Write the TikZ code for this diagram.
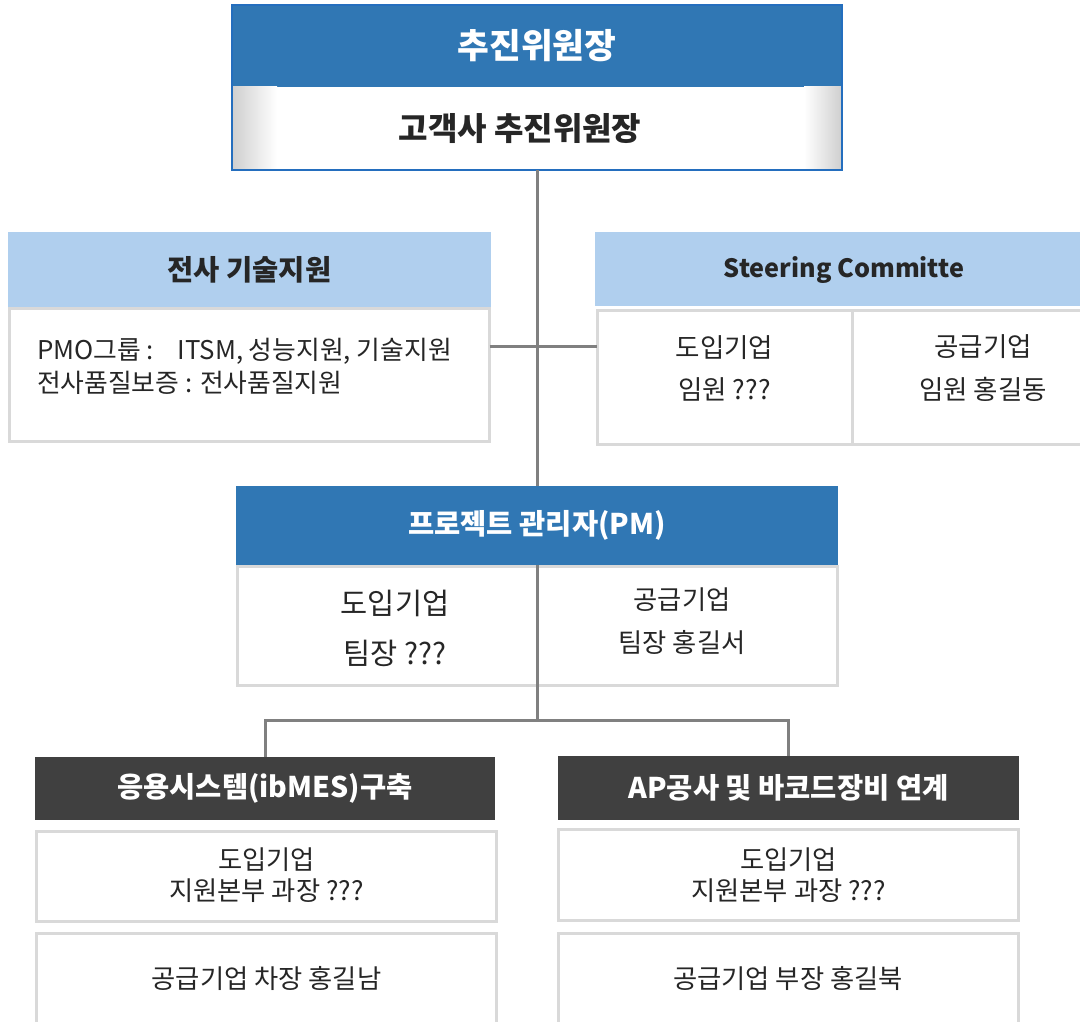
\documentclass[tikz,border=0pt]{standalone}
\usepackage{fontspec}
\setmainfont{Noto Sans CJK KR}
\definecolor{hdrblue}{RGB}{48,119,180}
\definecolor{lblue}{RGB}{176,207,238}
\definecolor{dgray}{RGB}{64,64,64}
\definecolor{bgray}{RGB}{217,217,217}
\definecolor{lgray}{RGB}{128,128,128}
\definecolor{tdark}{RGB}{38,38,38}
\definecolor{topborder}{RGB}{36,110,190}
\begin{document}
\begin{tikzpicture}[x=1pt,y=-1pt,
  every node/.style={inner sep=0pt, outer sep=0pt},
  bluehdr/.style={fill=hdrblue, text=white, font=\bfseries\fontsize{28.5}{32}\selectfont},
  lighthdr/.style={fill=lblue, text=tdark, font=\bfseries\fontsize{28.5}{32}\selectfont},
  darkhdr/.style={fill=dgray, text=white, font=\bfseries\fontsize{28.5}{32}\selectfont},
  cell/.style={draw=bgray, line width=3pt, fill=white},
  bodytxt/.style={text=tdark, align=center, font=\fontsize{26.3}{31}\selectfont},
  conn/.style={draw=lgray, line width=3pt}
]
\useasboundingbox (0,0) rectangle (1080,1022);

% ---- top box
\node[bluehdr, minimum width=610pt, minimum height=82pt] (tophdr) at (537,46) {\fontsize{34.5}{38}\selectfont 추진위원장};
\node[fill=white, minimum width=610pt, minimum height=83pt] (topbody) at (537,128.5) {};
\shade[left color=gray!38, right color=white] (topbody.north west) rectangle ++(45,83);
\shade[left color=white, right color=gray!38] ([xshift=-38pt]topbody.north east) rectangle (topbody.south east);
\node[text=tdark, font=\bfseries\fontsize{32}{36}\selectfont] (topname) at (520,128.5) {고객사 추진위원장};
\draw[topborder, line width=2pt] (tophdr.north west) rectangle (topbody.south east);

% ---- left box
\node[lighthdr, minimum width=483pt, minimum height=75pt] (lhdr) at (249.5,269.5) {전사 기술지원};
\node[cell, minimum width=480pt, minimum height=133pt] (lbody) at (249.5,375) {};
\node[anchor=west, align=left, text=tdark, font=\fontsize{25.8}{33}\selectfont] (ltext) at (37,366.5)
  {PMO그룹 :\hspace{24pt}ITSM, 성능지원, 기술지원\\전사품질보증 : 전사품질지원};

% ---- steering committee
\node[lighthdr, minimum width=490pt, minimum height=74pt] (shdr) at (840,269) {};
\node[text=tdark, font=\bfseries\fontsize{25.2}{30}\selectfont] (shdrt) at (844,270) {Steering Committe};
\node[cell, minimum width=255pt, minimum height=134pt] (sc1) at (724.5,377.5) {};
\node[cell, minimum width=232pt, minimum height=134pt] (sc2) at (968,377.5) {};
\node[bodytxt, font=\fontsize{26.5}{42}\selectfont] (sc1t) at (724.5,368) {도입기업\\임원 ???};
\node[bodytxt, font=\fontsize{26.5}{43}\selectfont] (sc2t) at (983,368.5) {공급기업\\임원 홍길동};

% ---- PM box
\node[bluehdr, minimum width=602pt, minimum height=79pt] (pmhdr) at (537,525.5) {프로젝트 관리자(PM)};
\node[cell, minimum width=600pt, minimum height=119pt] (pmbody) at (537,625.5) {};
\node[bodytxt, font=\fontsize{29.5}{50}\selectfont] (pmlt) at (395,628) {도입기업\\팀장 ???};
\node[bodytxt, font=\fontsize{26.3}{43}\selectfont] (pmrt) at (682,621.5) {공급기업\\팀장 홍길서};

% ---- bottom left
\node[darkhdr, minimum width=460pt, minimum height=63pt] (blhdr) at (265,788.5) {응용시스템(ibMES)구축};
\node[cell, minimum width=460pt, minimum height=90pt] (bl2) at (266.5,876) {};
\node[bodytxt] (bl2t) at (266.5,875) {도입기업\\지원본부 과장 ???};
\node[cell, minimum width=460pt, minimum height=92pt] (bl3) at (266.5,979) {};
\node[bodytxt] (bl3t) at (266.5,978) {공급기업 차장 홍길남};

% ---- bottom right
\node[darkhdr, minimum width=461pt, minimum height=64pt] (brhdr) at (788.5,788) {AP공사 및 바코드장비 연계};
\node[cell, minimum width=460pt, minimum height=91pt] (br2) at (788.5,875) {};
\node[bodytxt] (br2t) at (788.5,875) {도입기업\\지원본부 과장 ???};
\node[cell, minimum width=460pt, minimum height=92pt] (br3) at (788,979) {};
\node[bodytxt] (br3t) at (788,978) {공급기업 부장 홍길북};

% ---- connectors
\coordinate (hl) at (537,346);
\coordinate (br) at (537,720);
\draw[conn] (topbody.south) -- (pmhdr.north);
\draw[conn] (lbody.east |- hl) -- (sc1.west |- hl);
\draw[conn] (pmhdr.south) -- (br);
\draw[conn] (blhdr.north) |- (br) -| (brhdr.north);
\end{tikzpicture}
\end{document}
